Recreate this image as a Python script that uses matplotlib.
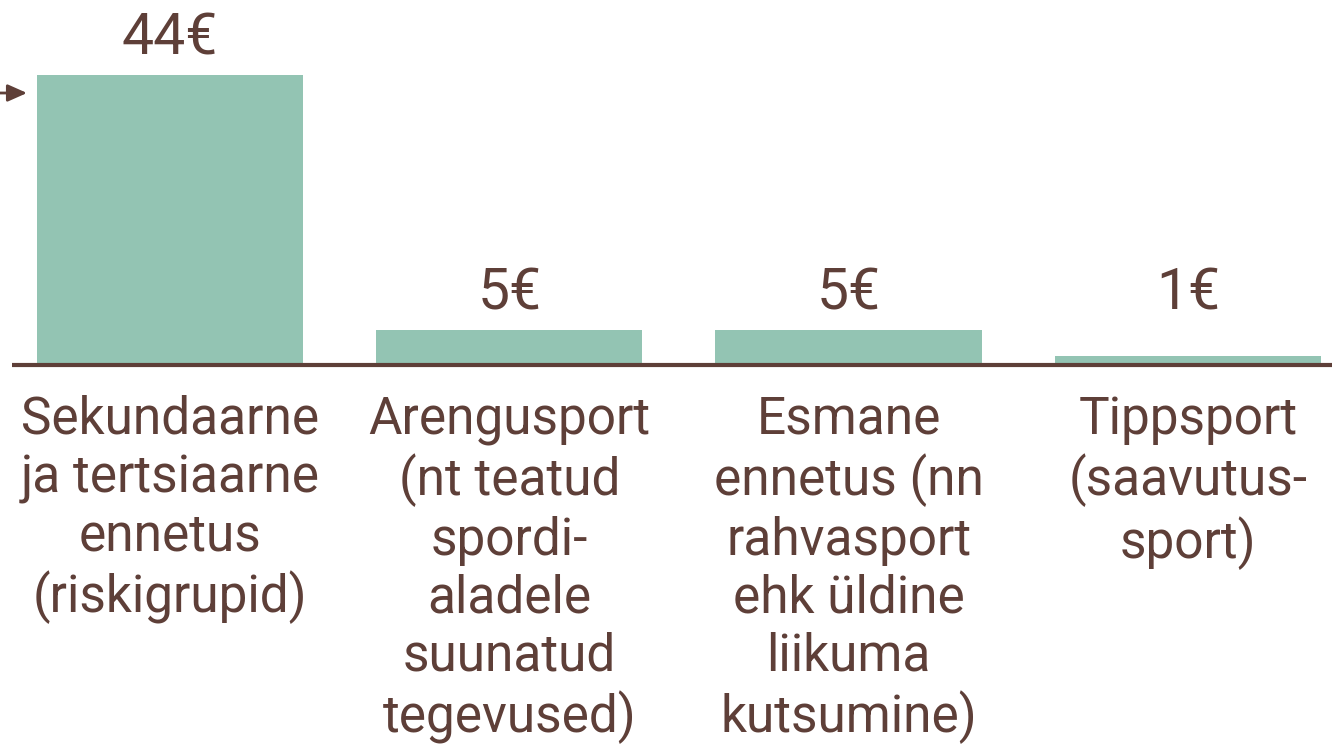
import numpy as np
import matplotlib.pyplot as plt

# > Data
categories = [
    'Sekundaarne\nja tertsiaarne\nennetus\n(riskigrupid)',
    'Arengusport\n(nt teatud\nspordi-\naladele\nsuunatud\ntegevused)',
    'Esmane\nennetus (nn\nrahvasport\nehk üldine\nliikuma\nkutsumine)',
    'Tippsport\n(saavutus-\nsport)',
]
values = [44, 5, 5, 1]
value_labels = ['44€', '5€', '5€', '1€']

# > Style
bar_color = '#93c4b3'
text_color = '#5e3f38'
plt.rcParams['font.family'] = ['Roboto', 'DejaVu Sans']

W, H = 1332, 744
fig = plt.figure(figsize=(W / 100, H / 100), dpi=100)

# axes: baseline at y=363 px from top, full width
base_px = 363
ax = fig.add_axes([0, (H - base_px) / H, 1, base_px / H])
pitch = 339.3
c0 = 170
ax.set_xlim(-c0 / pitch, (W - c0) / pitch)
ax.set_ylim(0, 44 * base_px / 288)
ax.axis('off')

x = np.arange(len(values))
ax.bar(x, values, width=0.785, color=bar_color, zorder=2)

# baseline
ax.plot([(12 - c0) / pitch, (W - c0) / pitch], [-0.3, -0.3], color=text_color,
        lw=3, solid_capstyle='butt', clip_on=False, zorder=3)

# value labels
for xi, v, lab in zip(x, values, value_labels):
    ax.annotate(lab, (xi, max(v, 5)), xytext=(0, 6), textcoords='offset points',
                ha='center', va='bottom', fontsize=41, color=text_color)

# category labels
for xi, cat in zip(x, categories):
    ax.annotate(cat, (xi, 0), xytext=(0, -23), textcoords='offset points',
                ha='center', va='top', fontsize=37, color=text_color,
                linespacing=1.21)

# arrow on the left
ax.annotate('', xy=(27 / pitch - c0 / pitch, 44 * (base_px - 93) / 288),
            xytext=(-c0 / pitch, 44 * (base_px - 93) / 288),
            arrowprops=dict(arrowstyle='-|>,head_length=0.9,head_width=0.4',
                            color=text_color, lw=2,
                            mutation_scale=13, shrinkA=0, shrinkB=0))

plt.savefig('out.png', dpi=100)
